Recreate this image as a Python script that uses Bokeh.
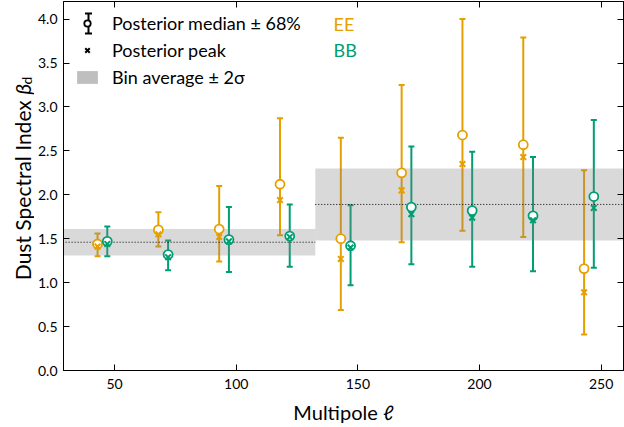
import math
from bokeh.plotting import figure
from bokeh.layouts import row
from bokeh.models import (ColumnDataSource, Range1d, LinearAxis, FixedTicker,
                          NumeralTickFormatter, Legend, LegendItem, Label, Arrow, TeeHead)
from bokeh.transform import dodge
from bokeh.core.properties import value
from bokeh.embed import file_html
from bokeh.resources import INLINE

# ---------------- data ----------------
ell = [45, 70, 95, 120, 145, 170, 195, 220, 245]

ee_median = [1.44, 1.60, 1.61, 2.12, 1.50, 2.25, 2.68, 2.57, 1.16]
ee_peak   = [1.41, 1.55, 1.52, 1.94, 1.27, 2.05, 2.35, 2.43, 0.89]
ee_lo     = [1.30, 1.41, 1.24, 1.54, 0.69, 1.46, 1.59, 1.52, 0.41]
ee_hi     = [1.56, 1.80, 2.10, 2.87, 2.65, 3.25, 4.00, 3.79, 2.28]

bb_median = [1.47, 1.32, 1.49, 1.53, 1.42, 1.86, 1.82, 1.76, 1.98]
bb_peak   = [1.44, 1.29, 1.47, 1.52, 1.40, 1.78, 1.74, 1.71, 1.85]
bb_lo     = [1.30, 1.14, 1.12, 1.18, 0.97, 1.21, 1.18, 1.13, 1.17]
bb_hi     = [1.64, 1.48, 1.86, 1.89, 1.88, 2.55, 2.49, 2.43, 2.85]

band_left  = [20.0, 132.5]
band_right = [132.5, 270.0]
band_mean  = [1.46, 1.89]
band_lo    = [1.31, 1.48]
band_hi    = [1.61, 2.30]

x_ticks = [50, 100, 150, 200, 250]
y_ticks = [0.0, 0.5, 1.0, 1.5, 2.0, 2.5, 3.0, 3.5, 4.0]

legend_labels = ["Posterior median \u00b1 68%", "Posterior peak", "Bin average \u00b1 2\u03c3"]
series_names = ["EE", "BB"]
x_label = "Multipole \u2113"
y_label_main = "Dust Spectral Index "
y_label_sym = "\u03b2"
y_label_sub = "d"

# ---------------- style ----------------
FONT = "Lato"
EE_COLOR = "#E69F00"
BB_COLOR = "#009E73"
OFFSET = 2.0
H = 427
LABEL_W = 34

# narrow figure holding the rotated y-axis title (with italic beta and subscript)
lab = figure(width=LABEL_W, height=H, x_range=Range1d(0, LABEL_W), y_range=Range1d(0, H),
             output_backend="svg", toolbar_location=None, min_border=0,
             x_axis_location=None, y_axis_location=None)
lab.xgrid.visible = False
lab.ygrid.visible = False
lab.outline_line_color = None
lab.background_fill_color = "white"
lab.border_fill_color = "white"
Y_END = H - 108
lab.text(x=[22], y=[Y_END], text=[y_label_main], angle=math.pi / 2,
         text_align="right", text_baseline="alphabetic",
         text_font=value(FONT), text_font_size="21px", text_color="black")
lab.text(x=[22], y=[Y_END], text=[y_label_sym], angle=math.pi / 2,
         text_align="left", text_baseline="alphabetic", text_font_style="italic",
         text_font=value(FONT), text_font_size="21px", text_color="black")
lab.text(x=[26], y=[Y_END + 12], text=[y_label_sub], angle=math.pi / 2,
         text_align="left", text_baseline="alphabetic",
         text_font=value(FONT), text_font_size="14px", text_color="black")

p = figure(width=624 - LABEL_W, height=H, x_range=Range1d(29, 259.2), y_range=Range1d(0, 4.2),
           output_backend="svg", toolbar_location=None,
           min_border_left=63 - LABEL_W, min_border_right=1, min_border_top=1,
           min_border_bottom=57)
p.xgrid.visible = False
p.ygrid.visible = False
p.outline_line_color = "black"
p.outline_line_width = 1
p.background_fill_color = "white"
p.border_fill_color = "white"

ee_src = ColumnDataSource(dict(ell=ell, median=ee_median, peak=ee_peak, lo=ee_lo, hi=ee_hi))
bb_src = ColumnDataSource(dict(ell=ell, median=bb_median, peak=bb_peak, lo=bb_lo, hi=bb_hi))
band_src = ColumnDataSource(dict(left=band_left, right=band_right, mean=band_mean,
                                 lo=band_lo, hi=band_hi))

series = [(ee_src, EE_COLOR, -OFFSET), (bb_src, BB_COLOR, OFFSET)]

# error bars + caps (below the band)
for src, col, off in series:
    xx = dodge("ell", off, range=p.x_range)
    p.segment(x0=xx, x1=xx, y0="lo", y1="hi", source=src, line_color=col, line_width=2)
    p.scatter(x=xx, y="lo", source=src, marker="dash", size=6, line_color=col, line_width=2)
    p.scatter(x=xx, y="hi", source=src, marker="dash", size=6, line_color=col, line_width=2)

# bin average bands
p.quad(left="left", right="right", bottom="lo", top="hi", source=band_src,
       fill_color="gray", fill_alpha=0.3, line_color=None)
p.segment(x0="left", x1="right", y0="mean", y1="mean", source=band_src,
          line_color="black", line_width=1, line_dash="1 2")

# markers
for src, col, off in series:
    xx = dodge("ell", off, range=p.x_range)
    p.scatter(x=xx, y="median", source=src, marker="circle", size=9,
              fill_color="white", line_color=col, line_width=1.8)
    p.scatter(x=xx, y="peak", source=src, marker="x", size=8,
              line_color=col, line_width=2)

# ---------------- axes ----------------
def style_axis(ax, labels=True):
    ax.axis_line_color = "black"
    ax.major_tick_line_color = "black"
    ax.major_tick_in = 6
    ax.major_tick_out = 0
    ax.minor_tick_line_color = None
    if labels:
        ax.major_label_text_font = FONT
        ax.major_label_text_font_size = "14px"
        ax.major_label_text_color = "black"
    else:
        ax.major_label_text_font_size = "1px"
        ax.major_label_text_color = None
        ax.major_label_standoff = 0

xb = p.xaxis[0]
yl = p.yaxis[0]
xb.ticker = FixedTicker(ticks=x_ticks)
yl.ticker = FixedTicker(ticks=y_ticks)
yl.formatter = NumeralTickFormatter(format="0.0")
style_axis(xb)
style_axis(yl)
xb.major_label_standoff = 8
yl.major_label_standoff = 6
xb.axis_label = x_label
xb.axis_label_text_font = FONT
xb.axis_label_text_font_size = "20px"
xb.axis_label_text_font_style = "normal"
xb.axis_label_text_color = "black"
xb.axis_label_standoff = 8

xt = LinearAxis(ticker=FixedTicker(ticks=x_ticks))
yr = LinearAxis(ticker=FixedTicker(ticks=y_ticks))
style_axis(xt, labels=False)
style_axis(yr, labels=False)
p.add_layout(xt, "above")
p.add_layout(yr, "right")

# ---------------- legend ----------------
r_med = p.scatter(x="ell", y="median", source=ee_src, marker="circle", size=9,
                  fill_color="white", line_color="black", line_width=1.8, visible=False)
r_peak = p.scatter(x="ell", y="peak", source=ee_src, marker="x", size=8,
                   line_color="black", line_width=2, visible=False)
r_band = p.quad(left="left", right="right", bottom="lo", top="hi", source=band_src,
                fill_color="gray", fill_alpha=0.5, line_color=None, visible=False)

p.add_layout(Arrow(x_start=25, y_start=337, x_end=25, y_end=357,
                   start_units="screen", end_units="screen", line_width=2, line_color="black",
                   start=TeeHead(size=7, line_width=2, line_color="black"),
                   end=TeeHead(size=7, line_width=2, line_color="black")))

legend = Legend(items=[LegendItem(label=legend_labels[0], renderers=[r_med]),
                       LegendItem(label=legend_labels[1], renderers=[r_peak]),
                       LegendItem(label=legend_labels[2], renderers=[r_band])],
                location="top_left", margin=11, padding=0, spacing=5,
                glyph_width=26, glyph_height=16, label_standoff=12,
                label_text_font=FONT, label_text_font_size="18px",
                label_text_color="black", background_fill_alpha=0,
                border_line_color=None, click_policy="none")
p.add_layout(legend, "center")

p.add_layout(Label(x=270, y=347, x_units="screen", y_units="screen", text=series_names[0],
                   text_baseline="middle", text_font=FONT, text_font_size="18px",
                   text_color=EE_COLOR))
p.add_layout(Label(x=270, y=321, x_units="screen", y_units="screen", text=series_names[1],
                   text_baseline="middle", text_font=FONT, text_font_size="18px",
                   text_color=BB_COLOR))

layout = row(lab, p, spacing=0)
open("out.html", "w").write(file_html(layout, INLINE))
